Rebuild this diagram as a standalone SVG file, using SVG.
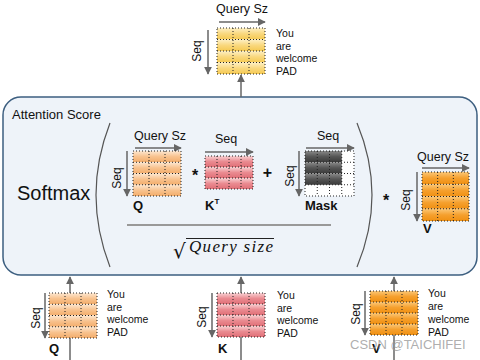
<svg xmlns="http://www.w3.org/2000/svg" width="480" height="360" viewBox="0 0 480 360">
<style>
text{font-family:"Liberation Sans",Arial,sans-serif;fill:#111}
.lbl{font-size:12.5px}
.seq{font-size:12px;text-anchor:middle}
.tok{font-size:10.5px}
.nm{font-size:13px;font-weight:bold}
.op{font-size:16px;font-weight:bold;text-anchor:middle}
.grid{fill:none;stroke:#222;stroke-width:1;stroke-dasharray:1 2}
.arr{stroke:#666;stroke-width:1.5;fill:none;marker-end:url(#ah)}
.yel{fill:url(#gy)}.pch{fill:url(#gp)}.pnk{fill:url(#gk)}.drk{fill:url(#gd)}.org{fill:url(#go)}
</style>
<defs>
<marker id="ah" viewBox="0 0 10 10" refX="9" refY="5" markerWidth="8" markerHeight="8" markerUnits="userSpaceOnUse" orient="auto"><path d="M0,0 L10,5 L0,10 z" fill="#666"/></marker>
<linearGradient id="gy" x1="0" y1="0" x2="0" y2="1"><stop offset="0" stop-color="#fdf0c6"/><stop offset="0.5" stop-color="#f9d87e"/><stop offset="1" stop-color="#f5c952"/></linearGradient>
<linearGradient id="gp" x1="0" y1="0" x2="0" y2="1"><stop offset="0" stop-color="#fde8d2"/><stop offset="0.5" stop-color="#f8c28e"/><stop offset="1" stop-color="#f3ad6b"/></linearGradient>
<linearGradient id="gk" x1="0" y1="0" x2="0" y2="1"><stop offset="0" stop-color="#f9d3d5"/><stop offset="0.5" stop-color="#ea8b91"/><stop offset="1" stop-color="#e06f77"/></linearGradient>
<linearGradient id="gd" x1="0" y1="0" x2="0" y2="1"><stop offset="0" stop-color="#8a8a8a"/><stop offset="0.5" stop-color="#555"/><stop offset="1" stop-color="#3a3a3a"/></linearGradient>
<linearGradient id="go" x1="0" y1="0" x2="0" y2="1"><stop offset="0" stop-color="#fbc879"/><stop offset="0.5" stop-color="#f5a02e"/><stop offset="1" stop-color="#f09012"/></linearGradient>
</defs>

<g id="attention-score">
<rect x="3" y="97" width="474" height="178" rx="18" fill="#eef3f9" stroke="#3d5f80" stroke-width="1.5"/>
<text x="12" y="119" style="font-size:13px">Attention Score</text>
<text x="17" y="200" style="font-size:20px">Softmax</text>
<path d="M110,123 Q82,195 110,267" fill="none" stroke="#555" stroke-width="1.2"/>
<path d="M357,123 Q387,195 357,267" fill="none" stroke="#555" stroke-width="1.2"/>
<text class="op" x="195" y="180.5">*</text>
<text class="op" x="267.5" y="178">+</text>
<text class="op" x="386" y="206">*</text>
<line x1="127" y1="225" x2="331" y2="225" stroke="#999" stroke-width="2"/>
<text x="173" y="258" style="font-family:'DejaVu Serif','Liberation Serif',serif;font-size:20px">√</text>
<line x1="186" y1="238.5" x2="274" y2="238.5" stroke="#222" stroke-width="1"/>
<text x="189" y="252" textLength="84" lengthAdjust="spacing" style="font-family:'Liberation Serif','DejaVu Serif',serif;font-size:17px;font-style:italic">Query size</text>
</g>

<g id="connectors">
<line class="arr" x1="241" y1="97" x2="241" y2="75"/>
<line class="arr" x1="70" y1="360" x2="70" y2="277"/>
<line class="arr" x1="241" y1="360" x2="241" y2="277"/>
<line class="arr" x1="394" y1="360" x2="394" y2="277"/>
</g>

<g id="out-matrix">
<text class="lbl" x="216" y="13">Query Sz</text>
<line class="arr" x1="219" y1="22" x2="265" y2="22"/>
<line class="arr" x1="208" y1="30" x2="208" y2="74"/>
<text class="seq" x="201" y="51" transform="rotate(-90 201 51)">Seq</text>
<rect class="yel" x="217" y="28" width="48" height="11.5"/><rect class="yel" x="217" y="39.5" width="48" height="11.5"/><rect class="yel" x="217" y="51" width="48" height="11.5"/><rect class="yel" x="217" y="62.5" width="48" height="11.5"/>
<path class="grid" d="M217,28h48v46h-48z M233,28v46 M249,28v46 M217,39.5h48 M217,51h48 M217,62.5h48"/>
<text class="tok" x="276" y="37">You</text><text class="tok" x="276" y="49.5">are</text><text class="tok" x="276" y="62">welcome</text><text class="tok" x="276" y="74.5">PAD</text>
</g>

<g id="q-mid">
<text class="lbl" x="134" y="140">Query Sz</text>
<line class="arr" x1="135" y1="148" x2="181" y2="148"/>
<line class="arr" x1="127" y1="151" x2="127" y2="196"/>
<text class="seq" x="121" y="178" transform="rotate(-90 121 178)">Seq</text>
<rect class="pch" x="133" y="151" width="48" height="11.25"/><rect class="pch" x="133" y="162.25" width="48" height="11.25"/><rect class="pch" x="133" y="173.5" width="48" height="11.25"/><rect class="pch" x="133" y="184.75" width="48" height="11.25"/>
<path class="grid" d="M133,151h48v45h-48z M149,151v45 M165,151v45 M133,162.25h48 M133,173.5h48 M133,184.75h48"/>
<text class="nm" x="133" y="210">Q</text>
</g>

<g id="kt-mid">
<text class="lbl" x="215" y="143">Seq</text>
<line class="arr" x1="205" y1="152" x2="253" y2="152"/>
<rect class="pnk" x="205" y="156" width="48" height="11"/><rect class="pnk" x="205" y="167" width="48" height="11"/><rect class="pnk" x="205" y="178" width="48" height="11"/>
<path class="grid" d="M205,156h48v33h-48z M217,156v33 M229,156v33 M241,156v33 M205,167h48 M205,178h48"/>
<text class="nm" x="205" y="210">K<tspan dy="-6" style="font-size:8px">T</tspan></text>
</g>

<g id="mask">
<text class="lbl" x="317" y="140">Seq</text>
<line class="arr" x1="306" y1="148" x2="354" y2="148"/>
<line class="arr" x1="299" y1="151" x2="299" y2="196"/>
<text class="seq" x="294" y="176" transform="rotate(-90 294 176)">Seq</text>
<rect x="305" y="151" width="49" height="45" fill="#fff"/>
<rect class="drk" x="305" y="151" width="36.75" height="11.25"/><rect class="drk" x="305" y="162.25" width="36.75" height="11.25"/><rect class="drk" x="305" y="173.5" width="36.75" height="11.25"/>
<path class="grid" d="M305,151h49v45h-49z M317.25,151v45 M329.5,151v45 M341.75,151v45 M305,162.25h49 M305,173.5h49 M305,184.75h49"/>
<text class="nm" x="305" y="210">Mask</text>
</g>

<g id="v-mid">
<text class="lbl" x="417" y="161">Query Sz</text>
<line class="arr" x1="422" y1="168" x2="469" y2="168"/>
<line class="arr" x1="417" y1="172" x2="417" y2="221"/>
<text class="seq" x="410" y="200" transform="rotate(-90 410 200)">Seq</text>
<rect class="org" x="422" y="172" width="47" height="12.25"/><rect class="org" x="422" y="184.25" width="47" height="12.25"/><rect class="org" x="422" y="196.5" width="47" height="12.25"/><rect class="org" x="422" y="208.75" width="47" height="12.25"/>
<path class="grid" d="M422,172h47v49h-47z M437.67,172v49 M453.33,172v49 M422,184.25h47 M422,196.5h47 M422,208.75h47"/>
<text class="nm" x="423" y="233">V</text>
</g>

<g id="q-in">
<line class="arr" x1="45" y1="293" x2="45" y2="338"/>
<text class="seq" x="40" y="318" transform="rotate(-90 40 318)">Seq</text>
<rect class="pch" x="49" y="293" width="48" height="11.25"/><rect class="pch" x="49" y="304.25" width="48" height="11.25"/><rect class="pch" x="49" y="315.5" width="48" height="11.25"/><rect class="pch" x="49" y="326.75" width="48" height="11.25"/>
<path class="grid" d="M49,293h48v45h-48z M65,293v45 M81,293v45 M49,304.25h48 M49,315.5h48 M49,326.75h48"/>
<text class="nm" x="49" y="353">Q</text>
<text class="tok" x="107" y="298">You</text><text class="tok" x="107" y="310.5">are</text><text class="tok" x="107" y="323">welcome</text><text class="tok" x="107" y="335.5">PAD</text>
</g>

<g id="k-in">
<line class="arr" x1="212" y1="293" x2="212" y2="337"/>
<text class="seq" x="206" y="317" transform="rotate(-90 206 317)">Seq</text>
<rect class="pnk" x="217" y="293" width="48" height="11"/><rect class="pnk" x="217" y="304" width="48" height="11"/><rect class="pnk" x="217" y="315" width="48" height="11"/><rect class="pnk" x="217" y="326" width="48" height="11"/>
<path class="grid" d="M217,293h48v44h-48z M233,293v44 M249,293v44 M217,304h48 M217,315h48 M217,326h48"/>
<text class="nm" x="218" y="353">K</text>
<text class="tok" x="277" y="299">You</text><text class="tok" x="277" y="311.5">are</text><text class="tok" x="277" y="324">welcome</text><text class="tok" x="277" y="336.5">PAD</text>
</g>

<g id="v-in">
<line class="arr" x1="365" y1="291" x2="365" y2="335"/>
<text class="seq" x="360" y="314" transform="rotate(-90 360 314)">Seq</text>
<rect class="org" x="370" y="291" width="48" height="11"/><rect class="org" x="370" y="302" width="48" height="11"/><rect class="org" x="370" y="313" width="48" height="11"/><rect class="org" x="370" y="324" width="48" height="11"/>
<path class="grid" d="M370,291h48v44h-48z M386,291v44 M402,291v44 M370,302h48 M370,313h48 M370,324h48"/>
<text class="nm" x="372" y="353">V</text>
<text class="tok" x="428" y="297">You</text><text class="tok" x="428" y="310">are</text><text class="tok" x="428" y="323">welcome</text><text class="tok" x="428" y="336">PAD</text>
</g>

<text x="350" y="349" style="font-size:13px;fill:#999;fill-opacity:0.8">CSDN @TAICHIFEI</text>
</svg>
